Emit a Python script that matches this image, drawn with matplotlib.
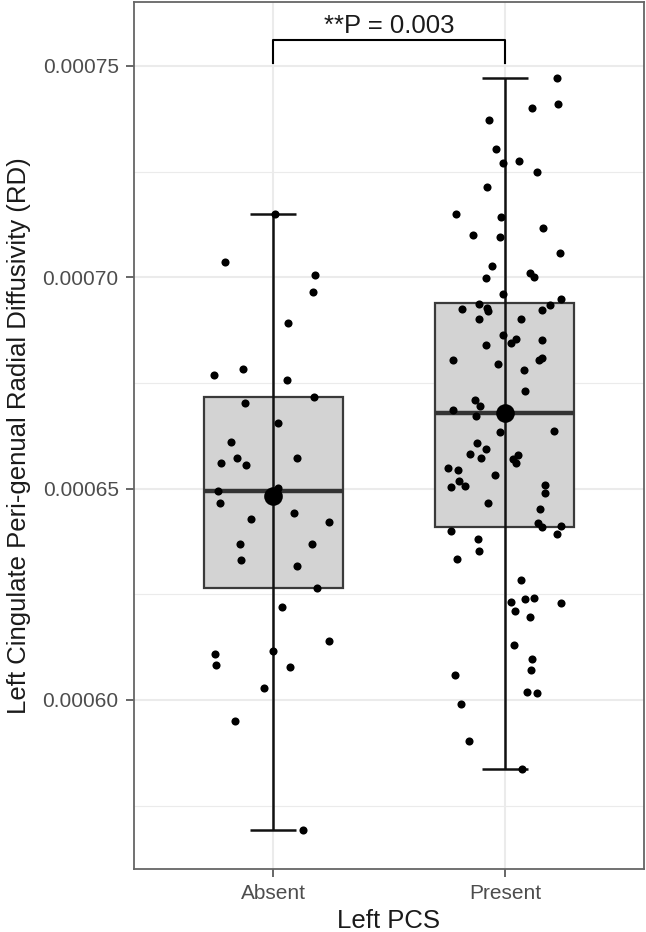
import numpy as np
import matplotlib
matplotlib.use("Agg")
import matplotlib.pyplot as plt

# Left PCS groups
groups = ["Absent", "Present"]

# RD values (x 1e-5) and horizontal jitter
absent_rd = np.array([
    71.49, 70.35, 70.05, 69.66, 68.92, 67.83, 67.68, 67.56, 67.17, 67.03,
    66.56, 66.10, 65.61, 65.72, 65.56, 65.73, 64.94, 65.01, 64.66, 64.29,
    64.43, 64.21, 63.69, 63.68, 63.32, 63.18, 62.65, 62.21, 61.39, 61.09,
    60.83, 61.16, 60.77, 60.29, 59.50, 56.92]) * 1e-5
absent_jit = np.array([
    0.010, -0.207, 0.181, 0.174, 0.066, -0.128, -0.253, 0.059, 0.178, -0.121,
    0.023, -0.182, -0.224, -0.154, -0.118, 0.102, -0.238, 0.023, -0.230, -0.095,
    0.091, 0.241, -0.142, 0.167, -0.137, 0.105, 0.191, 0.037, 0.241, -0.250,
    -0.247, 0.001, 0.073, -0.037, -0.164, 0.128])

present_rd = np.array([
    74.72, 74.09, 74.01, 73.72, 73.04, 72.71, 72.75, 72.50, 72.14, 71.49,
    71.43, 71.17, 71.00, 70.96, 70.57, 70.27, 69.99, 70.11, 70.00, 69.60,
    69.49, 69.25, 69.37, 69.27, 69.20, 69.34, 69.23, 69.01, 69.01, 68.64,
    68.45, 68.53, 68.52, 68.40, 68.04, 68.04, 68.08, 67.95, 67.81, 67.31,
    67.10, 66.95, 66.86, 66.72, 66.35, 66.37, 66.09, 65.94, 65.83, 65.72,
    65.80, 65.69, 65.60, 65.48, 65.44, 65.32, 65.18, 65.06, 65.03, 65.09,
    64.89, 64.65, 64.51, 64.18, 64.08, 64.12, 63.93, 64.00, 63.80, 63.53,
    63.33, 62.83, 62.31, 62.39, 62.40, 62.29, 62.10, 61.97, 61.30, 60.96,
    60.72, 60.59, 60.19, 60.16, 59.90, 59.04, 58.36]) * 1e-5
present_jit = np.array([
    0.223, 0.230, 0.119, -0.069, -0.040, -0.010, 0.059, 0.138, -0.078, -0.211,
    -0.016, 0.164, -0.137, -0.023, 0.237, -0.057, -0.082, 0.108, 0.126, -0.010,
    0.240, -0.184, -0.111, -0.076, -0.073, 0.194, 0.161, -0.112, 0.070, -0.007,
    0.026, 0.047, 0.159, -0.083, -0.223, 0.148, 0.162, -0.031, 0.083, 0.088,
    -0.128, -0.108, -0.225, -0.126, -0.022, 0.211, -0.119, -0.083, -0.149, -0.101,
    0.057, 0.036, 0.047, -0.247, -0.204, -0.043, -0.197, -0.170, -0.231, 0.171,
    0.174, -0.075, 0.151, 0.142, 0.158, 0.244, 0.223, -0.234, -0.115, -0.112,
    -0.208, 0.069, 0.027, 0.085, 0.125, 0.244, 0.044, 0.108, 0.039, 0.115,
    0.111, -0.216, 0.096, 0.137, -0.188, -0.157, 0.072])

# box summary (x 1e-5): whisker low, q1, median, q3, whisker high, mean
whis_lo = np.array([56.92, 58.36]) * 1e-5
q1 = np.array([62.66, 64.08]) * 1e-5
med = np.array([64.94, 66.78]) * 1e-5
q3 = np.array([67.17, 69.39]) * 1e-5
whis_hi = np.array([71.50, 74.71]) * 1e-5
means = np.array([64.83, 66.80]) * 1e-5

p_label = "**P = 0.003"
bracket_y = 75.615e-5
bracket_tip = 75.08e-5

plt.rcParams['font.family'] = ['Liberation Sans', 'DejaVu Sans']

fig = plt.figure(figsize=(6.46, 9.32), dpi=100)
ax = fig.add_axes([0.2074, 0.0676, 0.7895, 0.9303])

pos = np.arange(len(groups))
stats = []
for i in range(len(groups)):
    stats.append(dict(whislo=whis_lo[i], q1=q1[i], med=med[i], q3=q3[i],
                      whishi=whis_hi[i], fliers=[]))

ax.bxp(stats, positions=pos, widths=0.6, showfliers=False, showcaps=False,
       patch_artist=True,
       boxprops=dict(facecolor='#d3d3d3', edgecolor='#3a3a3a', linewidth=1.6),
       medianprops=dict(color='#333333', linewidth=3.2),
       whiskerprops=dict(linewidth=0), zorder=2)

# error bars (drawn over the box like stat_boxplot(geom='errorbar'))
ax.vlines(pos, whis_lo, whis_hi, color='#111111', linewidth=1.8, zorder=3)
ax.hlines(whis_lo, pos - 0.1, pos + 0.1, color='#111111', linewidth=1.8, zorder=3)
ax.hlines(whis_hi, pos - 0.1, pos + 0.1, color='#111111', linewidth=1.8, zorder=3)

# jittered points
ax.scatter(pos[0] + absent_jit, absent_rd, s=34, color='black', zorder=4, linewidths=0)
ax.scatter(pos[1] + present_jit, present_rd, s=34, color='black', zorder=4, linewidths=0)
ax.scatter(pos, means, s=180, color='black', zorder=5, linewidths=0)

# significance bracket
ax.plot([pos[0], pos[0], pos[1], pos[1]],
        [bracket_tip, bracket_y, bracket_y, bracket_tip],
        color='black', linewidth=1.5, zorder=3, clip_on=False)
ax.text((pos[0] + pos[1]) / 2, 75.79e-5, p_label, ha='center', va='baseline',
        fontsize=18.5, color='#1a1a1a')

ax.set_xlim(-0.6, 1.6)
ax.set_ylim(56.0e-5, 76.514e-5)

yt = [0.00060, 0.00065, 0.00070, 0.00075]
ax.set_yticks(yt)
ax.set_yticklabels(["0.00060", "0.00065", "0.00070", "0.00075"])
ax.set_yticks([0.000575, 0.000625, 0.000675, 0.000725], minor=True)
ax.set_xticks(pos)
ax.set_xticklabels(groups)

ax.tick_params(axis='both', which='major', labelsize=15, labelcolor='#4d4d4d',
               color='#4d4d4d', length=6, width=1.2, pad=5)
ax.tick_params(axis='y', which='minor', length=0)

ax.grid(True, which='major', color='#ebebeb', linewidth=1.5, zorder=0)
ax.grid(True, which='minor', axis='y', color='#ebebeb', linewidth=0.8, zorder=0)
ax.set_axisbelow(True)

for sp in ax.spines.values():
    sp.set_color('#666666')
    sp.set_linewidth(1.3)

ax.set_xlabel("Left PCS", fontsize=18.5, color='#1a1a1a', labelpad=4)
ax.set_ylabel("Left Cingulate Peri-genual Radial Diffusivity (RD)",
              fontsize=18.5, color='#1a1a1a', labelpad=8)

fig.savefig("out.png", dpi=100)
